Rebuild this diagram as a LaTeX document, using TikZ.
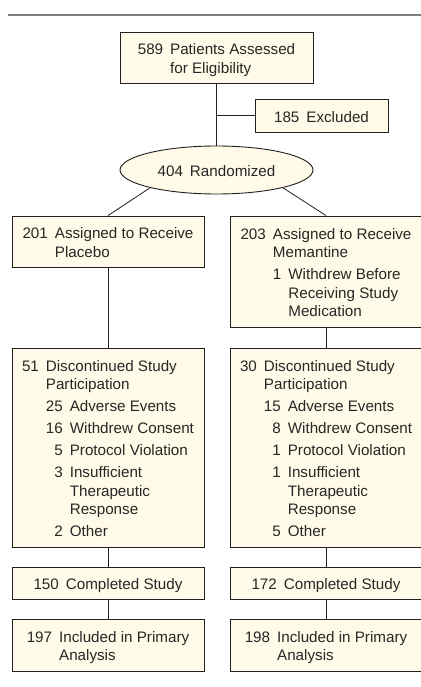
\documentclass[tikz,border=0pt]{standalone}
\usepackage{fontspec}
\setmainfont{Liberation Sans}
\usetikzlibrary{shapes.geometric}
\definecolor{boxfill}{RGB}{255,251,232}
\definecolor{boxline}{RGB}{35,31,32}
\definecolor{textcol}{RGB}{40,38,38}
\definecolor{rulegray}{RGB}{125,125,125}
\newcommand{\ftx}{\fontsize{15.2}{18.5}\selectfont}
\newenvironment{ent}{\begin{tabular}[t]{@{}r@{\hspace{7pt}}l@{}}}{\end{tabular}}
\newcommand{\tx}[1]{\raisebox{-3pt}[\height][\depth]{#1}}
\tikzset{
  flowbox/.style={rectangle, draw=boxline, fill=boxfill, line width=0.9pt, inner sep=0pt,
    text=textcol, font=\ftx, minimum width=192pt},
  flowell/.style={ellipse, draw=boxline, fill=boxfill, line width=0.9pt, inner sep=0pt,
    text=textcol, font=\ftx},
  conn/.style={draw=boxline, line width=0.8pt},
  toprule/.style={draw=rulegray, line width=1.3pt}
}
\begin{document}
\begin{tikzpicture}[x=1pt,y=-1pt]
\useasboundingbox (0,0) rectangle (420,687);
% title rule
\coordinate (ruleA) at (8,15);
\coordinate (ruleB) at (425,15);
\draw[toprule] (ruleA) -- (ruleB);

\node[flowbox, minimum width=193pt, minimum height=51pt] (top) at (216.5,57.5)
  {\tx{\begin{ent}589 & Patients Assessed\\ & for Eligibility\end{ent}}};
\node[flowbox, minimum width=133pt, minimum height=33pt] (excl) at (321.5,115.5)
  {\tx{\begin{ent}185 & Excluded\end{ent}}};
\node[flowell, minimum width=193pt, minimum height=48pt] (rand) at (216.5,170)
  {\tx{\begin{ent}404 & Randomized\end{ent}}};

% left column
\node[flowbox, minimum height=51pt] (L1) at (108,241.5)
  {\tx{\begin{ent}201 & Assigned to Receive\\ & Placebo\end{ent}}};
\node[flowbox, minimum height=199pt] (L2) at (108,447.5)
  {\tx{\begin{ent}51 & Discontinued Study\\ & Participation\\[3.5pt]
   & \begin{ent}25 & Adverse Events\\[3.5pt]
      16 & Withdrew Consent\\[3.5pt]
      5 & Protocol Violation\\[3.5pt]
      3 & Insufficient\\ & Therapeutic\\ & Response\\[3.5pt]
      2 & Other\end{ent}\end{ent}}};
\node[flowbox, minimum height=32pt] (L3) at (108,583)
  {\tx{\begin{ent}150 & Completed Study\end{ent}}};
\node[flowbox, minimum height=52pt] (L4) at (108,645)
  {\tx{\begin{ent}197 & Included in Primary\\ & Analysis\end{ent}}};

% right column
\node[flowbox, minimum height=111pt] (R1) at (326,271.5)
  {\tx{\begin{ent}203 & Assigned to Receive\\ & Memantine\\[3.5pt]
   & \begin{ent}1 & Withdrew Before\\ & Receiving Study\\ & Medication\end{ent}\end{ent}}};
\node[flowbox, minimum height=199pt] (R2) at (326,447.5)
  {\tx{\begin{ent}30 & Discontinued Study\\ & Participation\\[3.5pt]
   & \begin{ent}15 & Adverse Events\\[3.5pt]
      8 & Withdrew Consent\\[3.5pt]
      1 & Protocol Violation\\[3.5pt]
      1 & Insufficient\\ & Therapeutic\\ & Response\\[3.5pt]
      5 & Other\end{ent}\end{ent}}};
\node[flowbox, minimum height=32pt] (R3) at (326,583)
  {\tx{\begin{ent}172 & Completed Study\end{ent}}};
\node[flowbox, minimum height=52pt] (R4) at (326,645)
  {\tx{\begin{ent}198 & Included in Primary\\ & Analysis\end{ent}}};

% connectors
\draw[conn] (top.south) -- (rand.north);
\draw[conn] (top.south |- excl.west) -- (excl.west);
\draw[conn] (rand.195) -- (L1.north);
\draw[conn] (rand.-15) -- (R1.north);
\draw[conn] (L1.south) -- (L2.north);
\draw[conn] (L2.south) -- (L3.north);
\draw[conn] (L3.south) -- (L4.north);
\draw[conn] (R1.south) -- (R2.north);
\draw[conn] (R2.south) -- (R3.north);
\draw[conn] (R3.south) -- (R4.north);
\end{tikzpicture}
\end{document}
